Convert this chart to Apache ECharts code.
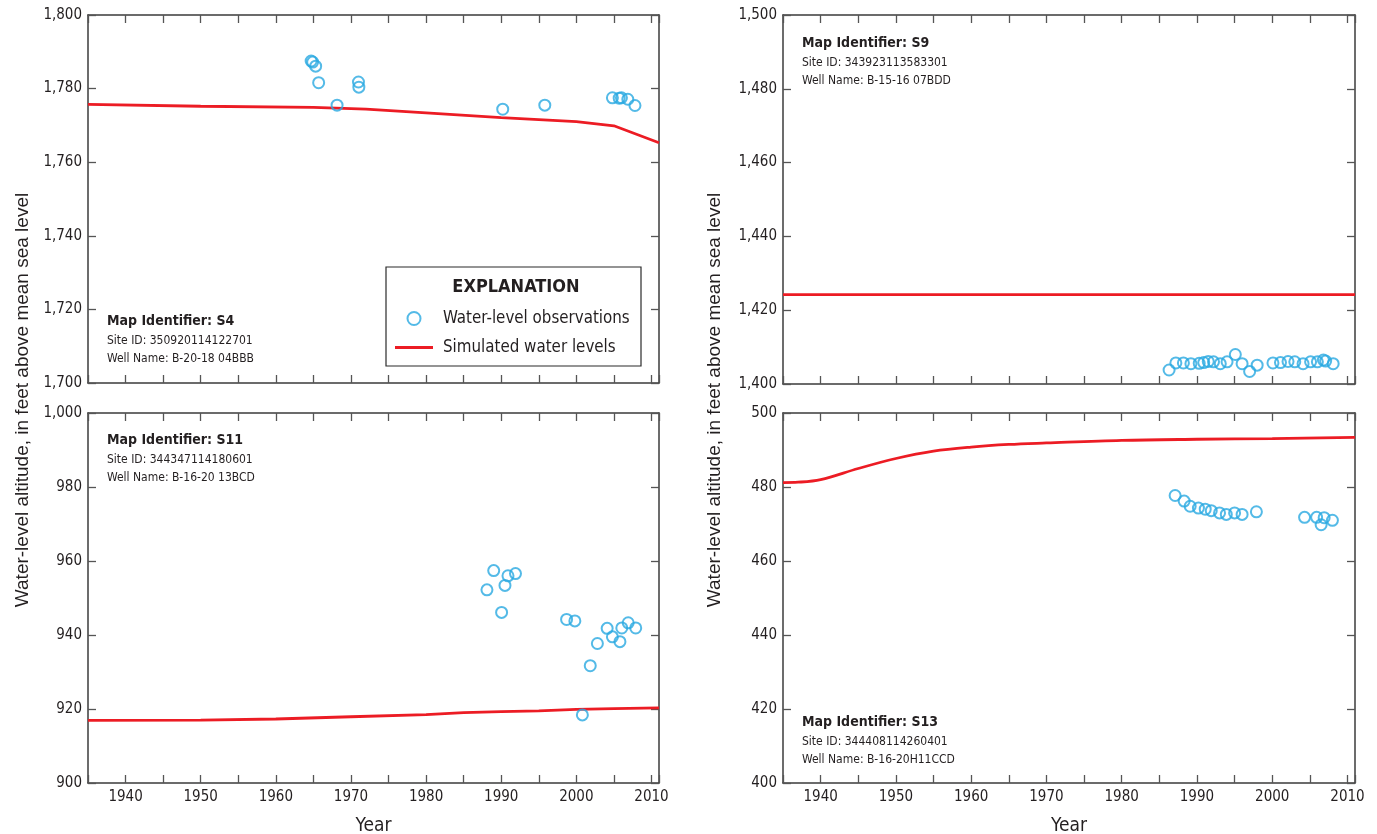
<!DOCTYPE html>
<html>
<head>
<meta charset="utf-8">
<title>Water-level altitude, observed and simulated</title>
<script src="https://cdn.jsdelivr.net/npm/echarts@6/dist/echarts.min.js"></script>
<style>
  html, body { margin: 0; padding: 0; background: #ffffff; }
  #chart { width: 1377px; height: 834px; }
</style>
</head>
<body>
<div id="chart"></div>
<script>
// ---- Well S4 (Site ID 350920114122701) ----
const s4ObsYears  = [1964.7, 1964.9, 1965.3, 1965.7, 1968.15, 1971.0, 1971.05, 1990.2, 1995.8, 2004.8, 2005.7, 2006.0, 2006.85, 2007.8];
const s4ObsLevels = [1787.5, 1787.2, 1786.1, 1781.6, 1775.5, 1781.8, 1780.4, 1774.4, 1775.5, 1777.5, 1777.4, 1777.5, 1777.1, 1775.4];
const s4SimYears  = [1935, 1950, 1965, 1972, 1980, 1990, 2000, 2005, 2011];
const s4SimLevels = [1775.7, 1775.2, 1774.9, 1774.4, 1773.4, 1772.1, 1771.0, 1769.9, 1765.3];

// ---- Well S9 (Site ID 343923113583301) ----
const s9ObsYears  = [1986.3, 1987.2, 1988.2, 1989.2, 1990.3, 1990.9, 1991.5, 1992.2, 1993.1, 1994.0, 1995.1, 1996.0, 1997.0, 1998.0,
                     2000.1, 2001.1, 2002.1, 2003.0, 2004.1, 2005.1, 2006.0, 2006.8, 2007.1, 2008.1];
const s9ObsLevels = [1403.8, 1405.7, 1405.7, 1405.5, 1405.6, 1405.8, 1406.1, 1406.0, 1405.5, 1406.0, 1408.0, 1405.5, 1403.4, 1405.1,
                     1405.7, 1405.8, 1406.1, 1406.0, 1405.5, 1406.0, 1406.0, 1406.5, 1406.2, 1405.5];
const s9SimYears  = [1935, 2011];
const s9SimLevels = [1424.2, 1424.2];

// ---- Well S11 (Site ID 344347114180601) ----
const s11ObsYears  = [1988.1, 1989.0, 1990.05, 1990.5, 1990.9, 1991.9, 1998.7, 1999.8, 2000.8, 2001.85, 2002.8, 2004.1, 2004.8, 2005.8, 2006.05, 2006.9, 2007.9];
const s11ObsLevels = [952.2, 957.4, 946.1, 953.4, 956.0, 956.6, 944.2, 943.8, 918.4, 931.7, 937.7, 941.8, 939.5, 938.2, 941.9, 943.3, 941.9];
const s11SimYears  = [1935, 1950, 1960, 1970, 1980, 1985, 1990, 1995, 2000, 2005, 2011];
const s11SimLevels = [916.9, 917.0, 917.3, 917.9, 918.5, 919.0, 919.3, 919.5, 919.9, 920.1, 920.3];

// ---- Well S13 (Site ID 344408114260401) ----
const s13ObsYears  = [1987.1, 1988.3, 1989.1, 1990.2, 1991.1, 1991.9, 1993.0, 1993.9, 1995.0, 1996.0, 1997.9, 2004.3, 2005.9, 2006.5, 2006.9, 2008.0];
const s13ObsLevels = [477.7, 476.2, 474.8, 474.3, 474.0, 473.6, 473.0, 472.6, 473.0, 472.6, 473.3, 471.8, 471.8, 469.8, 471.7, 471.0];
const s13SimYears  = [1935, 1937, 1940, 1945, 1950, 1955, 1960, 1965, 1970, 1980, 1990, 2000, 2011];
const s13SimLevels = [481.2, 481.3, 482.0, 485.0, 487.7, 489.7, 490.8, 491.5, 491.9, 492.6, 492.9, 493.1, 493.4];

// Axis ranges and labelling
const yearMin = 1935, yearMax = 2011, yearTickStep = 5, yearLabelStep = 10;
const levelRanges = [[1700, 1800], [1400, 1500], [900, 1000], [400, 500]];
const levelTickStep = 20;

const wellMapIds  = ['Map Identifier: S4', 'Map Identifier: S9', 'Map Identifier: S11', 'Map Identifier: S13'];
const wellSiteIds = ['Site ID: 350920114122701', 'Site ID: 343923113583301', 'Site ID: 344347114180601', 'Site ID: 344408114260401'];
const wellNames   = ['Well Name: B-20-18 04BBB', 'Well Name: B-15-16 07BDD', 'Well Name: B-16-20 13BCD', 'Well Name: B-16-20H11CCD'];

const obsName = 'Water-level observations';
const simName = 'Simulated water levels';
const yTitle = 'Water-level altitude, in feet above mean sea level';
const xTitle = 'Year';

const NARROW = '"DejaVu Sans Condensed", "Liberation Sans Narrow", sans-serif';
const REGULAR = '"Liberation Sans", Arial, sans-serif';
const INK = '#231f20';
const AXIS_COLOR = '#3b3b3b';
const OBS_COLOR = '#29a9e1';
const SIM_COLOR = '#ec1c24';

const zip = (xs, ys) => xs.map((x, i) => [x, ys[i]]);

const panels = [
  { obs: zip(s4ObsYears, s4ObsLevels),   sim: zip(s4SimYears, s4SimLevels),   smooth: false },
  { obs: zip(s9ObsYears, s9ObsLevels),   sim: zip(s9SimYears, s9SimLevels),   smooth: false },
  { obs: zip(s11ObsYears, s11ObsLevels), sim: zip(s11SimYears, s11SimLevels), smooth: false },
  { obs: zip(s13ObsYears, s13ObsLevels), sim: zip(s13SimYears, s13SimLevels), smooth: 0.35 }
];

// panel frames: top-left, top-right, bottom-left, bottom-right
const grids = [
  { left: 88,  top: 15,  width: 571, height: 368 },
  { left: 783, top: 15,  width: 572, height: 369 },
  { left: 88,  top: 413, width: 571, height: 370 },
  { left: 783, top: 413, width: 572, height: 370 }
];

const narrowText = (size, bold) => ({
  fontSize: size, fontFamily: NARROW, color: INK, fontWeight: bold ? 'bold' : 'normal'
});

const xAxes = [];
const yAxes = [];
grids.forEach((g, i) => {
  const bottomRow = i >= 2;
  ['bottom', 'top'].forEach(pos => {
    const labelled = bottomRow && pos === 'bottom';
    xAxes.push({
      type: 'value', gridIndex: i, position: pos,
      min: yearMin, max: yearMax, interval: yearTickStep,
      axisLine: { show: true, onZero: false, lineStyle: { color: AXIS_COLOR, width: 1.5 } },
      axisTick: { show: true, inside: true, length: 8, lineStyle: { color: '#555', width: 1.3 } },
      axisLabel: Object.assign({
        show: labelled, margin: 7,
        formatter: v => (v % yearLabelStep === 0 ? String(v) : '')
      }, narrowText(15)),
      splitLine: { show: false },
      name: labelled ? xTitle : '', nameLocation: 'middle', nameGap: 34,
      nameTextStyle: narrowText(19)
    });
  });
  ['left', 'right'].forEach(pos => {
    yAxes.push({
      type: 'value', gridIndex: i, position: pos,
      min: levelRanges[i][0], max: levelRanges[i][1], interval: levelTickStep,
      axisLine: { show: true, onZero: false, lineStyle: { color: AXIS_COLOR, width: 1.5 } },
      axisTick: { show: true, inside: true, length: 8, lineStyle: { color: '#555', width: 1.3 } },
      axisLabel: Object.assign({
        show: pos === 'left', margin: 6,
        formatter: v => v.toLocaleString('en-US')
      }, narrowText(15)),
      splitLine: { show: false }
    });
  });
});

const series = [];
panels.forEach((p, i) => {
  series.push({
    name: simName, type: 'line', xAxisIndex: 2 * i, yAxisIndex: 2 * i,
    data: p.sim, symbol: 'none', smooth: p.smooth,
    lineStyle: { color: SIM_COLOR, width: 2.8 }, itemStyle: { color: SIM_COLOR },
    z: 2, silent: true
  });
  series.push({
    name: obsName, type: 'scatter', xAxisIndex: 2 * i, yAxisIndex: 2 * i,
    data: p.obs, symbol: 'circle', symbolSize: 11,
    itemStyle: { color: 'rgba(255,255,255,0)', borderColor: OBS_COLOR, borderWidth: 2 },
    z: 3, silent: true
  });
});

// well identification blocks, one per panel (x of text start, y of first line centre)
const labelSpots = [
  { x: 107, y: 321 },
  { x: 802, y: 43 },
  { x: 107, y: 440 },
  { x: 802, y: 722 }
];
const graphics = [];
const gText = (size, bold) => Object.assign(narrowText(size, bold), { fill: INK, verticalAlign: 'middle' });
labelSpots.forEach((s, i) => {
  graphics.push({ type: 'text', x: s.x, y: s.y,      style: Object.assign({ text: wellMapIds[i] }, gText(14, true)) });
  graphics.push({ type: 'text', x: s.x, y: s.y + 20, style: Object.assign({ text: wellSiteIds[i] }, gText(12)) });
  graphics.push({ type: 'text', x: s.x, y: s.y + 38, style: Object.assign({ text: wellNames[i] }, gText(12)) });
});

// vertical axis titles for both columns
[23, 715].forEach(cx => {
  graphics.push({ type: 'text', x: cx, y: 400, rotation: Math.PI / 2,
    style: { text: yTitle, fontSize: 19, fontFamily: REGULAR, fill: INK, align: 'center', verticalAlign: 'middle' } });
});

// explanation box
graphics.push({ type: 'rect', shape: { x: 386, y: 267, width: 255, height: 99 },
  style: { fill: '#ffffff', stroke: '#2b2b2b', lineWidth: 1.2 }, z: 10 });
graphics.push({ type: 'text', x: 516, y: 287, z: 11,
  style: Object.assign({ text: 'EXPLANATION', align: 'center' }, gText(18, true)) });

const option = {
  backgroundColor: '#ffffff',
  animation: false,
  // fixed frames: do not let axis names push the panels inward
  grid: grids.map(g => Object.assign({ containLabel: false, outerBoundsMode: 'none' }, g)),
  xAxis: xAxes,
  yAxis: yAxes,
  legend: {
    orient: 'vertical', left: 395, top: 310, padding: 0, z: 20,
    itemWidth: 38, itemHeight: 13, itemGap: 12, selectedMode: false,
    symbolKeepAspect: true,
    textStyle: Object.assign({ padding: [0, 0, 0, 5] }, narrowText(16.8)),
    data: [
      { name: obsName, icon: 'circle', itemStyle: { color: 'rgba(255,255,255,0)', borderColor: OBS_COLOR, borderWidth: 2 } },
      { name: simName, icon: 'path://M0,0H100V8H0Z', itemStyle: { color: SIM_COLOR, borderWidth: 0 } }
    ]
  },
  graphic: graphics,
  series: series
};

const chart = echarts.init(document.getElementById('chart'), null, { renderer: 'canvas' });
chart.setOption(option);
</script>
</body>
</html>
